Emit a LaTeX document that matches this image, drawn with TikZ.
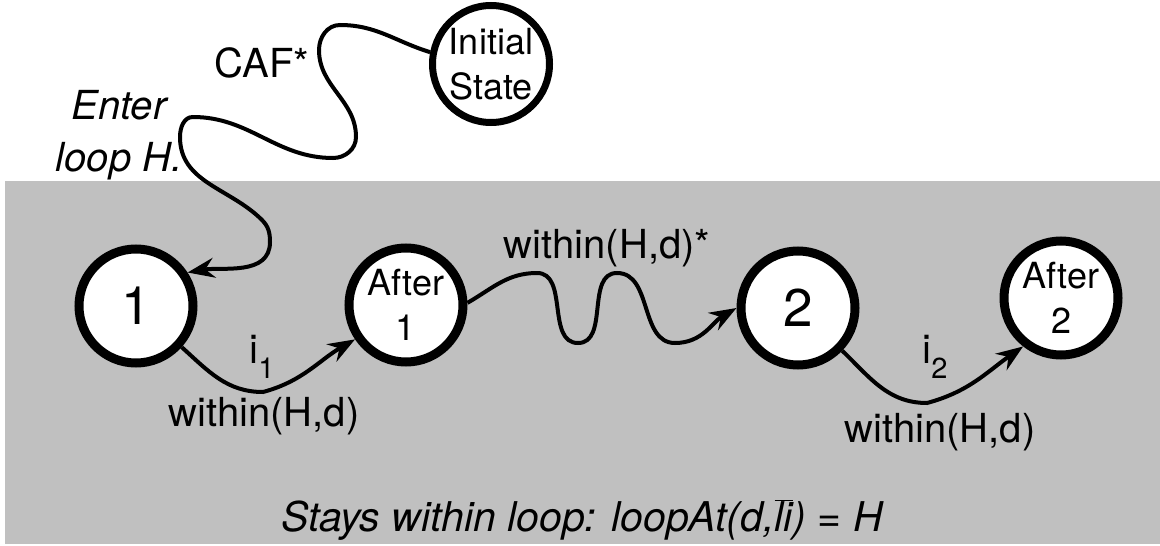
\documentclass[tikz,border=0pt]{standalone}
\usepackage{fontspec}
\setmainfont{TeX Gyre Heros}
\usetikzlibrary{arrows.meta}
\definecolor{loopgray}{RGB}{192,192,192}

\begin{document}
\begin{tikzpicture}[x=1pt,y=1pt,>={Stealth[length=27pt,width=20pt,inset=9pt]}]
        \tikzstyle{loopstate}=[circle,line width=9pt,draw=black,fill=white,minimum size=114pt,inner sep=0pt,align=center,font=\fontsize{36}{45}\selectfont]
        \tikzstyle{bignum}=[font=\fontsize{53}{53}\selectfont]
        \tikzstyle{trans}=[draw,->,line width=4pt]
        \tikzstyle{lbl}=[inner sep=0pt,font=\fontsize{40}{48}\selectfont]
        \useasboundingbox (0,0) rectangle (1160,-546);
        % the region that stays inside loop H
        \fill[loopgray] (5,-181) rectangle (1160,-544);
       \begin{scope}
         \node [loopstate,line width=7pt,minimum size=117pt] (init) at (491,-64) {Initial\\State};
         \node [loopstate,bignum] (n1) at (136,-306) {1};
         \node [loopstate] (a1) at (406,-305) {After\\1};
         \node [loopstate,bignum] (n2) at (798,-308) {2};
         \node [loopstate] (a2) at (1061,-298) {After\\2};
         % labels
         \node [lbl] (caf) at (262,-63) {CAF*};
         \node [lbl,font=\fontsize{40}{52}\selectfont\itshape,align=center] (enter) at (119,-135) {Enter\\loop H.};
         \node [lbl] (i1) at (262,-357) {i\raisebox{-15pt}{\fontsize{29}{29}\selectfont 1}};
         \node [lbl] (w1) at (264,-416) {within(H,d)};
         \node [lbl] (wstar) at (607,-248) {within(H,d)*};
         \node [lbl] (i2) at (935,-357) {i\raisebox{-15pt}{\fontsize{29}{29}\selectfont 2}};
         \node [lbl] (w2) at (940,-432) {within(H,d)};
         \node [lbl,font=\fontsize{41}{44}\selectfont\itshape] (stays) at (582,-520) {Stays within loop: loopAt(d,$\overline{\mbox{li}}$) = H};
         % transitions
         \draw[trans] (init.169) to[out=163,in=0] (340,-25) to[out=180,in=90] (319,-50)
            to[out=-90,in=90] (356,-137) to[out=-90,in=0] (333,-158) to[out=180,in=0] (193,-117)
            to[out=180,in=90] (180,-137) to[out=-90,in=135] (262,-220) to[out=-45,in=90] (270,-242)
            to[out=-90,in=10] (n1.33);
         \draw[trans] (n1.-42) to[out=-42,in=180] (263,-392) to[out=15,in=-150] (a1.-146);
         \draw[trans] (a1.2) to[out=30,in=180] (537,-273) to[out=0,in=180] (578,-343)
            to[out=0,in=180] (617,-273) to[out=0,in=180] (675,-343) to[out=0,in=-150] (n2.180);
         \draw[trans] (n2.-44) to[out=-44,in=180] (927,-403) to[out=15,in=-145] (a2.-128);
        \end{scope}
      \end{tikzpicture}
\end{document}
